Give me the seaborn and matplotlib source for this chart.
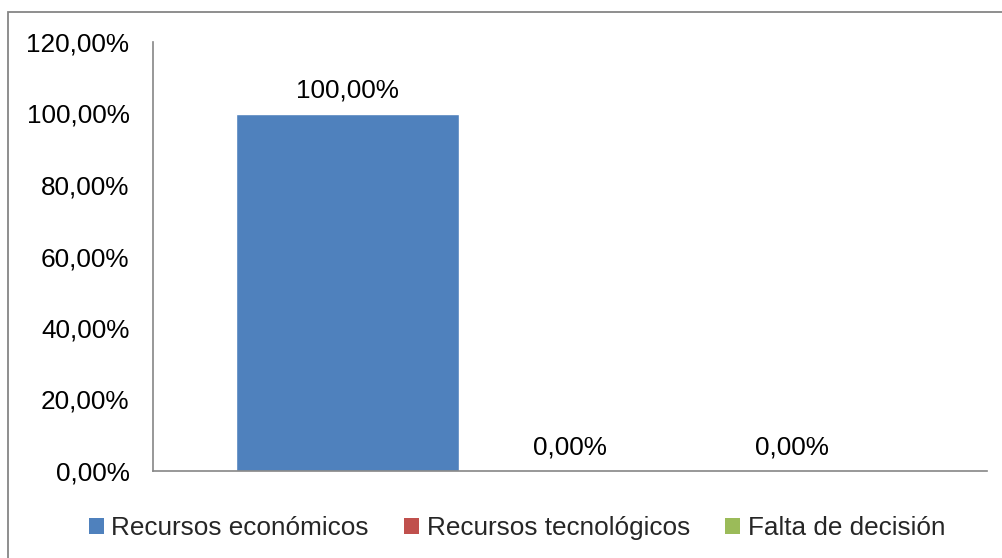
import matplotlib
matplotlib.use("Agg")
import matplotlib.pyplot as plt
from matplotlib.patches import Rectangle, Patch
from matplotlib.ticker import FuncFormatter, MultipleLocator
import seaborn as sns
import pandas as pd

# Data
categoria = [""]
series = ["Recursos económicos", "Recursos tecnológicos", "Falta de decisión"]
valores = [100.0, 0.0, 0.0]
colores = ["#4F81BD", "#C0504D", "#9BBB59"]

sns.set_theme(style="white")
plt.rcParams["font.family"] = ["Liberation Sans", "DejaVu Sans"]
FS = 18.8

df = pd.DataFrame({"cat": categoria * len(series), "serie": series, "valor": valores})

fig = plt.figure(figsize=(10.02, 5.58), dpi=100)
ax = fig.add_axes([153 / 1002, 1 - 471 / 558, (987 - 153) / 1002, (471 - 42) / 558])

sns.barplot(data=df, x="cat", y="valor", hue="serie", hue_order=series,
            palette=colores, saturation=1, width=0.8, legend=False, ax=ax)

def pct(v):
    return f"{v:.2f}".replace(".", ",") + "%"

ax.set_ylim(0, 120)
ax.yaxis.set_major_locator(MultipleLocator(20))
ax.yaxis.set_major_formatter(FuncFormatter(lambda v, p: pct(v)))
ax.set_xlabel("")
ax.set_ylabel("")
ax.set_xticks([])
ax.tick_params(axis="y", length=0, pad=17, labelsize=FS, labelcolor="black")

for s in ["top", "right"]:
    ax.spines[s].set_visible(False)
for s in ["left", "bottom"]:
    ax.spines[s].set_color("#868686")
    ax.spines[s].set_linewidth(1.2)

# Data labels above each bar
for cont, v in zip(ax.containers, valores):
    for bar in cont:
        xc = bar.get_x() + bar.get_width() / 2
        ax.annotate(pct(v), (xc, bar.get_height()), xytext=(0, 16),
                    textcoords="offset pixels", ha="center", va="baseline",
                    fontsize=FS, color="black")

# Legend
handles = [Patch(facecolor=c, edgecolor="none", label=s) for s, c in zip(series, colores)]
fig.legend(handles=handles, loc="center", bbox_to_anchor=(517 / 1002, 1 - 528 / 558),
           ncol=3, frameon=False, fontsize=FS, handlelength=0.56, handleheight=0.56,
           handletextpad=0.3, columnspacing=1.35, borderpad=0, borderaxespad=0)

# Chart border
fig.patches.append(Rectangle((8 / 1002, -0.05), 1.05, 1 - 12 / 558 + 0.05,
                             transform=fig.transFigure, fill=False,
                             edgecolor="#868686", linewidth=1.3))

fig.savefig("out.png", dpi=100, facecolor="white")
